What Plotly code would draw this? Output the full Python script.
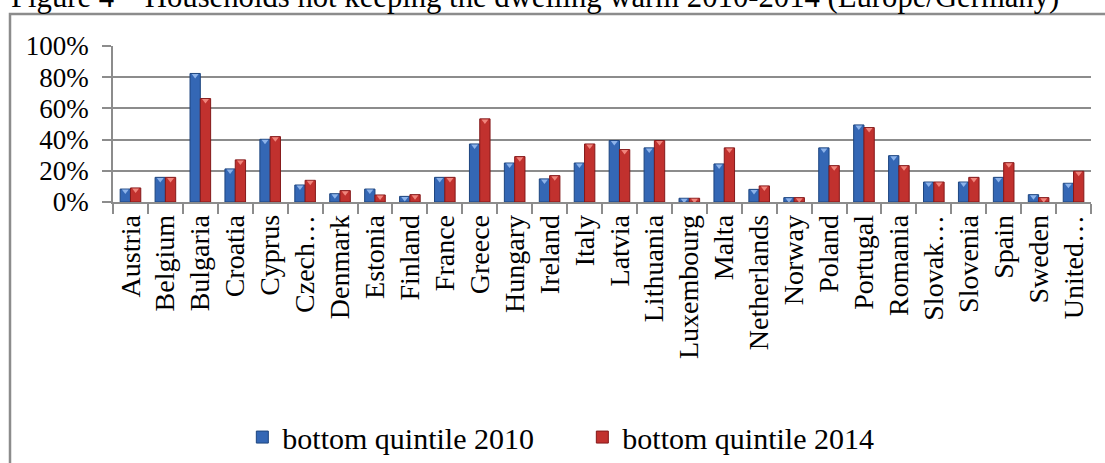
import plotly.graph_objects as go

countries = ["Austria", "Belgium", "Bulgaria", "Croatia", "Cyprus", "Czech…", "Denmark",
             "Estonia", "Finland", "France", "Greece", "Hungary", "Ireland", "Italy",
             "Latvia", "Lithuania", "Luxembourg", "Malta", "Netherlands", "Norway",
             "Poland", "Portugal", "Romania", "Slovak…", "Slovenia", "Spain", "Sweden",
             "United…"]
q2010 = [8.3, 15.8, 82.4, 21.2, 40.2, 10.9, 5.3, 8.3, 3.6, 15.8, 37.2, 25.0, 14.8, 25.0,
         39.4, 34.7, 2.4, 24.4, 8.1, 2.8, 34.7, 49.4, 29.7, 12.8, 12.8, 15.8, 4.7, 12.0]
q2014 = [9.0, 15.8, 66.3, 27.0, 41.9, 13.9, 7.3, 4.5, 4.7, 15.8, 53.3, 29.1, 16.9, 37.2,
         33.6, 39.4, 2.4, 34.7, 10.3, 2.8, 23.3, 47.7, 23.3, 12.8, 15.8, 25.2, 2.8, 19.7]
series_names = ["bottom quintile 2010", "bottom quintile 2014"]
y_ticks = [0, 20, 40, 60, 80, 100]
y_ticklabels = ["0%", "20%", "40%", "60%", "80%", "100%"]
title_text = "Figure 4 – Households not keeping the dwelling warm 2010-2014 (Europe/Germany)"

FONT = '"Liberation Serif", "Times New Roman", serif'
W, H = 1105, 463
ML, MR, MT, MB = 113, 14, 46, 261
pw = W - ML - MR
ph = H - MT - MB
GAP = 0.41

fig = go.Figure()
fig.add_trace(go.Bar(x=countries, y=q2010, name=series_names[0], offsetgroup="a",
                     marker=dict(color="#3467b5", line=dict(color="#1d457f", width=1))))
fig.add_trace(go.Bar(x=countries, y=q2014, name=series_names[1], offsetgroup="b",
                     marker=dict(color="#c1312e", line=dict(color="#84191a", width=1))))

# bevel highlight triangles at the top of each bar
fig.add_trace(go.Scatter(x=countries, y=[v - 1.3 for v in q2010], mode="markers",
                         offsetgroup="a", showlegend=False, hoverinfo="skip",
                         marker=dict(symbol="triangle-down", size=6, color="#8db3ea",
                                     line=dict(width=0))))
fig.add_trace(go.Scatter(x=countries, y=[v - 1.3 for v in q2014], mode="markers",
                         offsetgroup="b", showlegend=False, hoverinfo="skip",
                         marker=dict(symbol="triangle-down", size=6, color="#f0857c",
                                     line=dict(width=0))))

fig.update_layout(
    width=W, height=H,
    margin=dict(l=ML, r=MR, t=MT, b=MB, pad=0),
    paper_bgcolor="white", plot_bgcolor="white",
    barmode="group", bargap=GAP, bargroupgap=0,
    scattermode="group", scattergap=GAP,
    font=dict(family=FONT, color="black"),
    legend=dict(orientation="h", xref="container", yref="container",
                x=0.527, xanchor="center", y=0.056, yanchor="middle",
                font=dict(family=FONT, size=30, color="black"),
                itemwidth=30, tracegroupgap=0, entrywidth=295, entrywidthmode="pixels"),
    showlegend=True,
)
fig.update_xaxes(
    type="category", tickmode="array", tickvals=countries, ticktext=countries,
    tickangle=-90, tickfont=dict(family=FONT, size=28, color="black"),
    ticks="outside", ticklen=10, tickcolor="#8c8c8c", tickwidth=1.5, tickson="boundaries",
    showline=True, linecolor="#8c8c8c", linewidth=1.5, showgrid=False, zeroline=False,
)
fig.update_yaxes(
    range=[0, 100], tickvals=y_ticks, ticktext=y_ticklabels,
    tickfont=dict(family=FONT, size=27, color="black"),
    ticks="outside", ticklen=9, tickcolor="#8c8c8c", tickwidth=1.5, ticklabelstandoff=8,
    showline=True, linecolor="#8c8c8c", linewidth=1.5,
    showgrid=True, gridcolor="#8c8c8c", gridwidth=1.5, zeroline=False,
)

# outer frame of the chart object
fig.add_shape(type="rect", xref="paper", yref="paper",
              x0=(10 - ML) / pw, x1=(W + 10 - ML) / pw,
              y0=-(H - MT) / ph - 0.2, y1=(H - MB - 14) / ph,
              line=dict(color="#8c8c8c", width=2.5), fillcolor="rgba(0,0,0,0)", layer="below")

# clipped title (only the lower part shows in the reference)
fig.add_annotation(text=title_text, xref="paper", yref="paper",
                   x=(535 - ML) / pw, xanchor="center",
                   y=(H - MB - 16) / ph, yanchor="bottom", showarrow=False,
                   font=dict(family=FONT, size=30.7, color="black"))

fig.write_html("out.html")
